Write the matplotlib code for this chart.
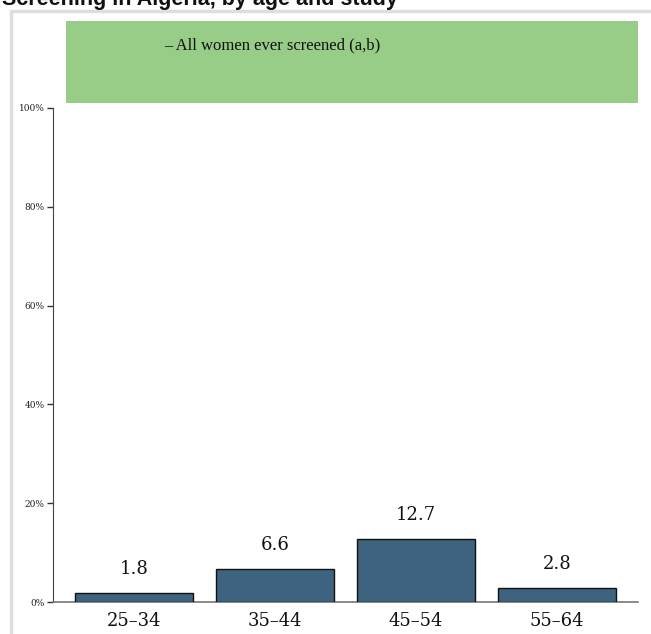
import matplotlib
matplotlib.use("Agg")
import matplotlib.pyplot as plt
from matplotlib.patches import Rectangle

categories = ["25–34", "35–44", "45–54", "55–64"]
values = [1.8, 6.6, 12.7, 2.8]
yticks = [0, 20, 40, 60, 80, 100]
ytick_labels = ["0%", "20%", "40%", "60%", "80%", "100%"]
title = "Screening in Algeria, by age and study"
legend_text = "– All women ever screened (a,b)"

W, H = 651, 634
fig = plt.figure(figsize=(W / 100, H / 100), dpi=100)
fig.patch.set_facecolor("white")

def fx(px):
    return px / W

def fy(py):
    return 1 - py / H

# light gray panel border
fig.patches.append(Rectangle((fx(11), fy(700)), fx(700), fy(11) - fy(700),
                             transform=fig.transFigure, fill=False,
                             edgecolor="#dedede", linewidth=2.5, zorder=0))

# title (partly cut off at the top, as in the reference)
fig.text(fx(2), fy(5), title, fontsize=15.5, fontweight="bold",
         family="Liberation Sans", color="#111111", ha="left", va="baseline")

# green legend box
fig.patches.append(Rectangle((fx(66), fy(103)), fx(638) - fx(66), fy(21) - fy(103),
                             transform=fig.transFigure, facecolor="#97cd87",
                             edgecolor="none", zorder=1))
fig.text(fx(272), fy(45), legend_text, fontsize=12, family="Liberation Serif",
         color="#111111", ha="center", va="center", zorder=2)

ax = fig.add_axes([fx(53), fy(602), fx(638) - fx(53), fy(108) - fy(602)])
x = list(range(len(categories)))
bars = ax.bar(x, values, width=0.837, color="#3e637f", edgecolor="#111111",
              linewidth=1.0, zorder=3)
ax.set_xlim(-0.574, 3.574)
ax.set_ylim(0, 100)

for xi, v in zip(x, values):
    ax.annotate(f"{v}", (xi, v), xytext=(0, 17.5), textcoords="offset points",
                ha="center", va="center", fontsize=13, family="DejaVu Serif",
                color="#111111")

ax.set_xticks(x)
ax.set_xticklabels(categories, fontsize=13, family="DejaVu Serif", color="#111111")
ax.tick_params(axis="x", length=0, pad=7)
ax.set_yticks(yticks)
ax.set_yticklabels(ytick_labels, fontsize=6.5, family="DejaVu Serif", color="#222222")
ax.tick_params(axis="y", length=4, width=1, color="#333333", pad=2)

for s in ["top", "right"]:
    ax.spines[s].set_visible(False)
ax.spines["left"].set_color("#444444")
ax.spines["left"].set_bounds(0, 100)
ax.spines["bottom"].set_color("#777777")
ax.spines["bottom"].set_linewidth(1.2)
ax.set_facecolor("none")

fig.savefig("out.png", dpi=100)
